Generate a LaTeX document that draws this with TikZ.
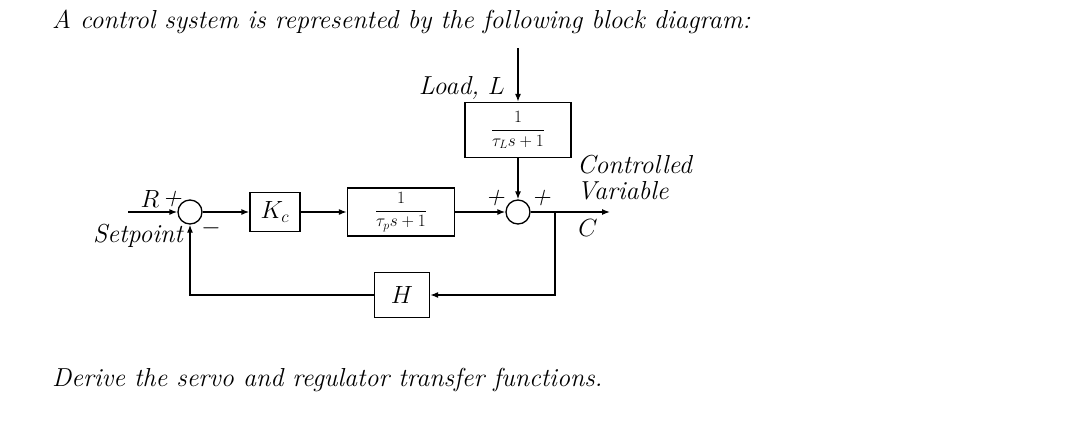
\documentclass[tikz,border=0pt]{standalone}
\usetikzlibrary{arrows.meta}
\begin{document}
\begin{tikzpicture}[x=1pt,y=-1pt,
  blk/.style={draw,line width=1.3pt,minimum height=#1,inner sep=0pt},
  sum/.style={draw,line width=1.3pt,circle,minimum size=24pt,inner sep=0pt},
  arr/.style={line width=1.3pt,-{Latex[length=8pt,width=6pt]}},
  frc/.style={font=\fontsize{18}{21}\selectfont},
  txt/.style={font=\fontsize{26}{30}\selectfont\itshape,inner sep=0pt}]
\useasboundingbox (0,0) rectangle (1080,440);
\node[txt,anchor=west] (title) at (52,22) {A control system is represented by the following block diagram:};
\node[txt,anchor=west] (foot) at (52,380) {Derive the servo and regulator transfer functions.};
\node[sum] (s1) at (190,212) {};
\node[blk=39pt,minimum width=50pt] (kc) at (275,212) {\fontsize{26}{30}\selectfont$K_c$};
\node[blk=48pt,minimum width=107pt,frc] (gp) at (401,212) {$\displaystyle\frac{1}{\tau_p s+1}$};
\node[sum] (s2) at (518,212) {};
\node[blk=55pt,minimum width=106pt,frc] (gl) at (518,130) {$\displaystyle\frac{1}{\tau_L s+1}$};
\node[blk=45pt,minimum width=55pt] (h) at (402,295) {\fontsize{26}{30}\selectfont$H$};
\coordinate (lin) at (518,48);
\coordinate (rin) at (128,212);
\coordinate (out) at (610,212);
\coordinate (br) at (555,212);
\draw[arr] (lin) -- (gl.north);
\draw[arr] (gl.south) -- (s2.north);
\draw[arr] (rin) -- (s1.west);
\draw[arr] (s1.east) -- (kc.west);
\draw[arr] (kc.east) -- (gp.west);
\draw[arr] (gp.east) -- (s2.west);
\draw[arr] (s2.east) -- (out);
\draw[arr] (br) |- (h.east);
\draw[arr] (h.west) -| (s1.south);
\node[txt,anchor=east] (ll) at (505,88) {Load, $L$};
\node[txt] (r) at (150,199) {$R$};
\node[txt] (rp) at (172,199) {+};
\node[txt] (sp) at (138,236) {Setpoint};
\node[txt] (m) at (211,228) {$-$};
\node[txt] (p1) at (495,198) {+};
\node[txt] (p2) at (541,198) {+};
\node[txt,anchor=west] (cv1) at (577,165) {Controlled};
\node[txt,anchor=west] (cv2) at (577,191) {Variable};
\node[txt] (c) at (588,228) {$C$};
\end{tikzpicture}
\end{document}
